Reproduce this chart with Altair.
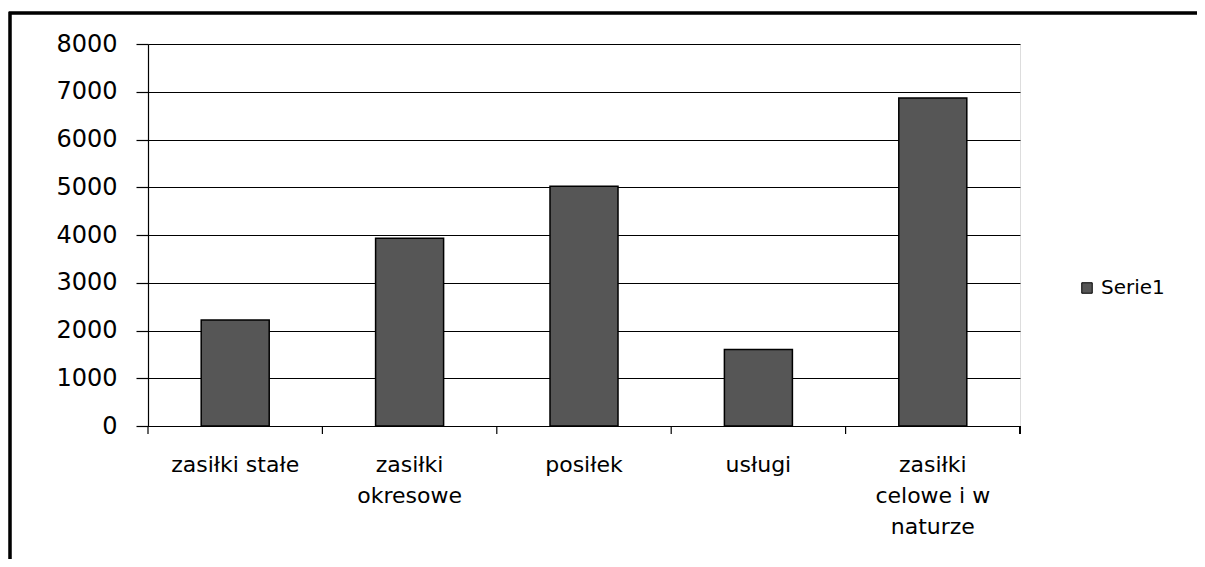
import json
import altair as alt
import pandas as pd

categories = ["zasiłki stałe", "zasiłki okresowe", "posiłek", "usługi", "zasiłki celowe i w naturze"]
label_lines = [["zasiłki stałe"], ["zasiłki", "okresowe"], ["posiłek"], ["usługi"], ["zasiłki", "celowe i w", "naturze"]]
values = [2220, 3930, 5020, 1600, 6870]
series_name = "Serie1"
y_ticks = [0, 1000, 2000, 3000, 4000, 5000, 6000, 7000, 8000]

df = pd.DataFrame({"kategoria": categories, "wartosc": values, "seria": series_name})

label_expr = " : ".join(
    f"datum.value == {json.dumps(c, ensure_ascii=False)} ? {json.dumps(l, ensure_ascii=False)}"
    for c, l in zip(categories, label_lines)
) + " : datum.label"

FONT = "DejaVu Sans"
W, H = 872, 382

x_enc = alt.X(
    "kategoria:N",
    sort=categories,
    scale=alt.Scale(paddingInner=0, paddingOuter=0),
    axis=alt.Axis(
        title=None, labelAngle=0, ticks=False, domain=True, domainColor="black",
        domainWidth=1.2, labelPadding=28, labelFontSize=22, labelLineHeight=31,
        labelColor="black", labelFont=FONT, labelExpr=label_expr, labelBaseline="top",
        grid=False,
    ),
)

bars = alt.Chart(df).mark_bar(
    width=alt.RelativeBandSize(0.39), stroke="black", strokeWidth=1.5
).encode(
    x=x_enc,
    y=alt.Y(
        "wartosc:Q",
        scale=alt.Scale(domain=[0, 8000], nice=False),
        axis=alt.Axis(
            title=None, values=y_ticks, format="d", grid=True, gridColor="black",
            gridOpacity=1, gridWidth=1.2, tickSize=12, tickColor="black", tickWidth=1.2,
            labelPadding=19, labelFontSize=24, labelColor="black", labelFont=FONT,
            domainColor="black", domainWidth=1.2,
        ),
    ),
    color=alt.Color(
        "seria:N",
        scale=alt.Scale(range=["#565656"]),
        legend=alt.Legend(
            title=None, orient="none", legendX=929, legendY=234, labelFontSize=20,
            labelFont=FONT, labelColor="black", symbolType="square", symbolSize=110,
            symbolStrokeColor="black", symbolStrokeWidth=1, labelOffset=4,
        ),
    ),
)

ticks = alt.Chart(df).mark_rule(color="black", strokeWidth=1.2).encode(
    x=alt.X("kategoria:N", sort=categories, bandPosition=0),
    y=alt.value(H),
    y2=alt.value(H + 8),
)

last_tick = alt.Chart(df).mark_rule(color="black", strokeWidth=1.2).encode(
    x=alt.value(W),
    y=alt.value(H),
    y2=alt.value(H + 8),
)

frame = alt.Chart(df).mark_rect(fill=None, stroke="black", strokeWidth=2.5).encode(
    x=alt.value(-138), x2=alt.value(1400), y=alt.value(-31), y2=alt.value(900)
)

chart = alt.layer(frame, bars, ticks, last_tick).properties(
    width=W, height=H,
    autosize=alt.AutoSizeParams(type="none"),
    padding={"left": 140, "top": 36, "right": 177, "bottom": 133},
).configure_view(stroke=None).configure(background="white")

chart.save("out.html", embed_options={"renderer": "svg", "actions": False})
